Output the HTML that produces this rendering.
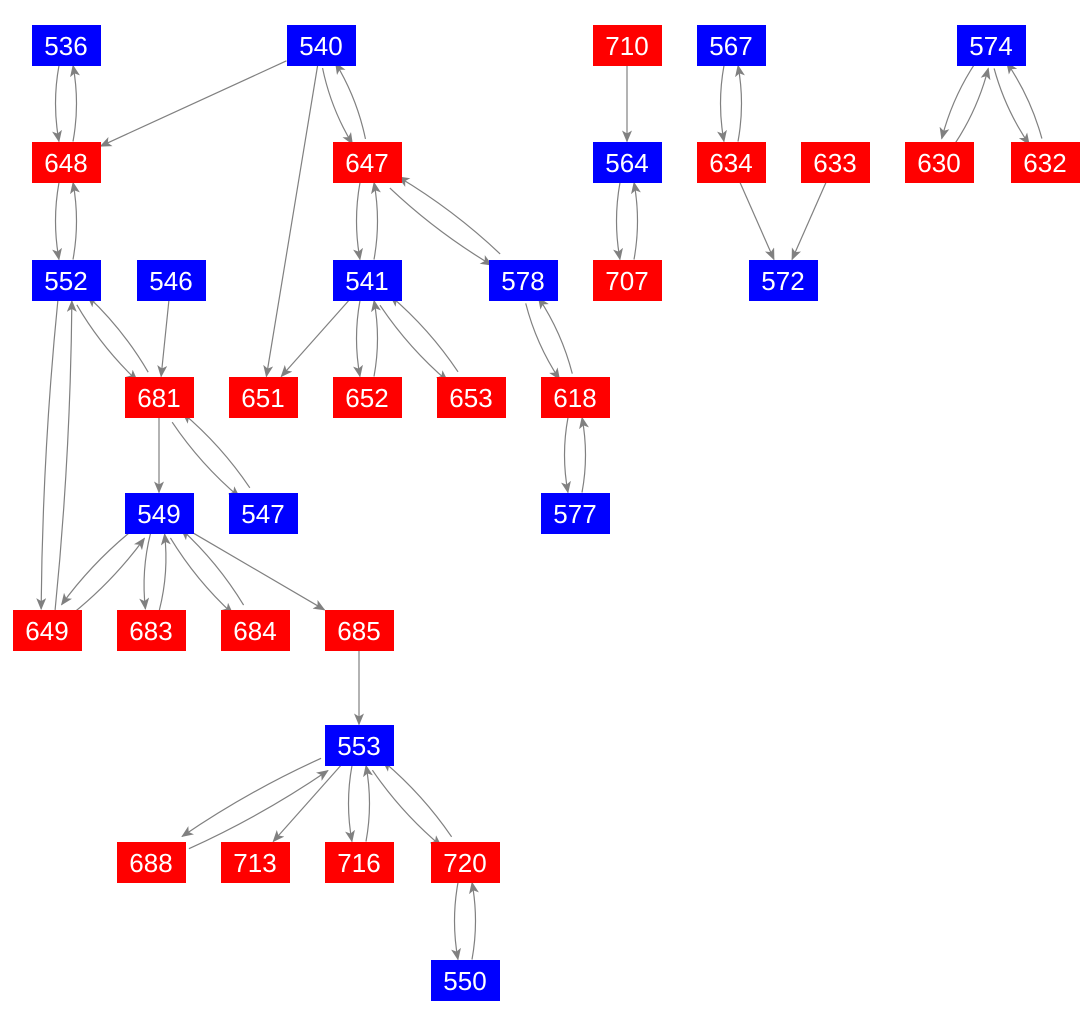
<!DOCTYPE html>
<html><head><meta charset="utf-8"><style>
html,body{margin:0;padding:0;background:#fff;}
svg{display:block}
text{font-family:"Liberation Sans",Arial,sans-serif;font-size:26px;fill:#fff;text-anchor:middle;dominant-baseline:central}
</style></head><body>
<svg id="s" width="1085" height="1025" viewBox="0 0 1085 1025">
<defs><marker id="a" markerWidth="12" markerHeight="10" refX="11" refY="5" orient="auto" markerUnits="userSpaceOnUse"><path d="M0,0 L12,5 L0,10 L3,5 z" fill="#808080"/></marker></defs>
<g id="e"></g>
<g id="n">
<rect x="32" y="25" width="69" height="41" fill="#0000ff"/><text x="66" y="46">536</text>
<rect x="287" y="25" width="69" height="41" fill="#0000ff"/><text x="321" y="46">540</text>
<rect x="593" y="25" width="69" height="41" fill="#ff0000"/><text x="627" y="46">710</text>
<rect x="697" y="25" width="69" height="41" fill="#0000ff"/><text x="731" y="46">567</text>
<rect x="957" y="25" width="69" height="41" fill="#0000ff"/><text x="991" y="46">574</text>
<rect x="32" y="142" width="69" height="41" fill="#ff0000"/><text x="66" y="163">648</text>
<rect x="333" y="142" width="69" height="41" fill="#ff0000"/><text x="367" y="163">647</text>
<rect x="593" y="142" width="69" height="41" fill="#0000ff"/><text x="627" y="163">564</text>
<rect x="697" y="142" width="69" height="41" fill="#ff0000"/><text x="731" y="163">634</text>
<rect x="801" y="142" width="69" height="41" fill="#ff0000"/><text x="835" y="163">633</text>
<rect x="905" y="142" width="69" height="41" fill="#ff0000"/><text x="939" y="163">630</text>
<rect x="1011" y="142" width="69" height="41" fill="#ff0000"/><text x="1045" y="163">632</text>
<rect x="32" y="260" width="69" height="41" fill="#0000ff"/><text x="66" y="281">552</text>
<rect x="137" y="260" width="69" height="41" fill="#0000ff"/><text x="171" y="281">546</text>
<rect x="333" y="260" width="69" height="41" fill="#0000ff"/><text x="367" y="281">541</text>
<rect x="489" y="260" width="69" height="41" fill="#0000ff"/><text x="523" y="281">578</text>
<rect x="593" y="260" width="69" height="41" fill="#ff0000"/><text x="627" y="281">707</text>
<rect x="749" y="260" width="69" height="41" fill="#0000ff"/><text x="783" y="281">572</text>
<rect x="125" y="377" width="69" height="41" fill="#ff0000"/><text x="159" y="398">681</text>
<rect x="229" y="377" width="69" height="41" fill="#ff0000"/><text x="263" y="398">651</text>
<rect x="333" y="377" width="69" height="41" fill="#ff0000"/><text x="367" y="398">652</text>
<rect x="437" y="377" width="69" height="41" fill="#ff0000"/><text x="471" y="398">653</text>
<rect x="541" y="377" width="69" height="41" fill="#ff0000"/><text x="575" y="398">618</text>
<rect x="125" y="493" width="69" height="41" fill="#0000ff"/><text x="159" y="514">549</text>
<rect x="229" y="493" width="69" height="41" fill="#0000ff"/><text x="263" y="514">547</text>
<rect x="541" y="493" width="69" height="41" fill="#0000ff"/><text x="575" y="514">577</text>
<rect x="13" y="610" width="69" height="41" fill="#ff0000"/><text x="47" y="631">649</text>
<rect x="117" y="610" width="69" height="41" fill="#ff0000"/><text x="151" y="631">683</text>
<rect x="221" y="610" width="69" height="41" fill="#ff0000"/><text x="255" y="631">684</text>
<rect x="325" y="610" width="69" height="41" fill="#ff0000"/><text x="359" y="631">685</text>
<rect x="325" y="725" width="69" height="41" fill="#0000ff"/><text x="359" y="746">553</text>
<rect x="117" y="842" width="69" height="41" fill="#ff0000"/><text x="151" y="863">688</text>
<rect x="221" y="842" width="69" height="41" fill="#ff0000"/><text x="255" y="863">713</text>
<rect x="325" y="842" width="69" height="41" fill="#ff0000"/><text x="359" y="863">716</text>
<rect x="431" y="842" width="69" height="41" fill="#ff0000"/><text x="465" y="863">720</text>
<rect x="431" y="960" width="69" height="41" fill="#0000ff"/><text x="465" y="981">550</text>
</g>
</svg>
<script>
var P={536:[66,45],540:[321,45],710:[627,45],567:[731,45],574:[991,45],648:[66,162],647:[367,162],564:[627,162],634:[731,162],633:[835,162],630:[939,162],632:[1045,162],552:[66,280],546:[171,280],541:[367,280],578:[523,280],707:[627,280],572:[783,280],681:[159,397],651:[263,397],652:[367,397],653:[471,397],618:[575,397],549:[159,513],547:[263,513],577:[575,513],649:[47,630],683:[151,630],684:[255,630],685:[359,630],553:[359,745],688:[151,862],713:[255,862],716:[359,862],720:[465,862],550:[465,980]};
var pairs=[[536,648],[540,647],[647,541],[647,578],[648,552],[552,681],[552,649],[541,652],[541,653],[578,618],[618,577],[681,547],[549,649],[549,683],[549,684],[553,688],[553,716],[553,720],[720,550],[564,707],[567,634],[574,630],[574,632]];
var singles=[[540,648],[540,651],[546,681],[541,651],[681,549],[549,685],[685,553],[553,713],[710,564],[634,572],[633,572]];
var g=document.getElementById('e'),h='';
function clip(c,dx,dy){var hw=34.5,hh=20.5;var t=Math.min(dx?hw/Math.abs(dx):1e9,dy?hh/Math.abs(dy):1e9);return [c[0]+dx*t,c[1]+dy*t];}
function edge(a,b,off){var A=P[a],B=P[b];var dx=B[0]-A[0],dy=B[1]-A[1],L=Math.hypot(dx,dy);var ux=dx/L,uy=dy/L,px=-uy,py=ux;
var s=clip(A,ux,uy),e=clip(B,-ux,-uy);s=[s[0]+px*off,s[1]+py*off];e=[e[0]+px*off,e[1]+py*off];
var mx=(s[0]+e[0])/2+px*off*1.0,my=(s[1]+e[1])/2+py*off*1.0;
h+='<path d="M'+s[0]+','+s[1]+' Q'+mx+','+my+' '+e[0]+','+e[1]+'" fill="none" stroke="#808080" stroke-width="1.2" marker-end="url(#a)"/>';}
pairs.forEach(function(p){edge(p[0],p[1],7);edge(p[1],p[0],7);});
singles.forEach(function(p){edge(p[0],p[1],0);});
g.innerHTML=h;
</script>
</body></html>
